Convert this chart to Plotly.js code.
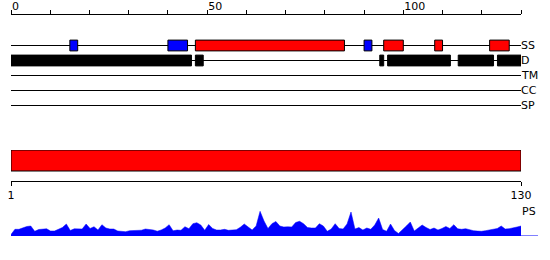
<!DOCTYPE html>
<html><head><meta charset="utf-8">
<script src="https://cdn.plot.ly/plotly-3.0.1.min.js"></script>
<style>html,body{margin:0;padding:0;background:#fff}</style>
</head><body><div id="chart" style="width:550px;height:260px"></div>
<script>
const seqLength = 130;
const trackNames = ['SS', 'D', 'TM', 'CC', 'SP'];
const ssStart = [15, 40, 47, 90, 95, 108, 122];
const ssEnd   = [17, 45, 85, 92, 100, 110, 127];
const ssType  = ['E', 'E', 'H', 'E', 'H', 'H', 'H'];
const disStart = [0, 47, 94, 96, 114, 124];
const disEnd   = [46, 49, 95, 112, 123, 130];
const regionStart = [1];
const regionEnd = [130];
const bottomTickVals = [1, 130];
const psValues = [1.5,6.7,6.7,8.5,9.5,10,4.7,6.5,6.8,7.2,
  5,5,6.7,8.5,12,5.5,7.2,7,7,12,
  7.5,9.3,6,11.3,8,7,7,5,5,4.3,
  5.3,5.7,5.5,5.8,7,6.8,6,4.8,6,8,
  11.3,5.2,6,5.7,9.3,7.3,12.3,13.3,11,5.7,
  11.5,7.5,6,6,6.7,5.7,5.8,6.3,8.7,12,
  9,6,10,24.7,15,7.5,12.3,14.5,10,9,
  9.2,9,13.5,14.7,12.3,8.5,8,8,12.3,10,
  4.7,7,12.3,7.5,7,12,24,7,8.5,6,
  8,6.7,11,18,6.5,4.7,12,5.5,2.5,6,
  10,14,5,8,11,8.5,6.5,8,6,7.5,
  9.5,7.5,11.3,7.2,6.7,7.3,6,5.3,4.9,4.7,
  5.3,6.2,6.9,7.5,10,7,7.3,7.8,9,10];
const psPos = psValues.map((v, i) => i + 1);

const ssColors = {E: '#0000ff', H: '#ff0000'};
const H = 260;
const py = p => 1 - p / H;
const font = {family: 'DejaVu Sans', size: 11, color: '#000'};

const traces = [
  {type: 'bar', orientation: 'h', xaxis: 'x', yaxis: 'y',
   base: ssStart, x: ssEnd.map((e, i) => e - ssStart[i]), y: ssStart.map(() => 0),
   width: 0.72, marker: {color: ssType.map(t => ssColors[t]), line: {color: '#000', width: 1}},
   hoverinfo: 'skip'},
  {type: 'bar', orientation: 'h', xaxis: 'x', yaxis: 'y',
   base: disStart, x: disEnd.map((e, i) => e - disStart[i]), y: disStart.map(() => 1),
   width: 0.72, marker: {color: '#000', line: {color: '#000', width: 1}},
   hoverinfo: 'skip'},
  {type: 'bar', orientation: 'h', xaxis: 'x2', yaxis: 'y2',
   base: regionStart, x: regionEnd.map((e, i) => e - regionStart[i]), y: [0],
   width: 1, marker: {color: '#ff0000', line: {color: '#000', width: 1}},
   hoverinfo: 'skip'},
  {type: 'scatter', mode: 'lines', xaxis: 'x3', yaxis: 'y3',
   x: psPos, y: psValues, fill: 'tozeroy', fillcolor: '#0000ff',
   line: {color: '#0000ff', width: 0.5}, hoverinfo: 'skip'}
];

const shapes = trackNames.map((n, i) => ({
  type: 'line', xref: 'x', yref: 'y', x0: 0, x1: seqLength, y0: i, y1: i,
  line: {color: '#000', width: 1}, layer: 'below'}));
shapes.push({type: 'line', xref: 'paper', yref: 'y3', x0: 1, x1: 527 / 510, y0: 0, y1: 0,
  line: {color: '#0000ff', width: 1}});

const annotations = trackNames.map((n, i) => ({
  text: n, xref: 'x', yref: 'y', x: seqLength, y: i, xanchor: 'left', yanchor: 'middle',
  showarrow: false, font: font, borderpad: 0, xshift: -1}));
annotations.push({text: 'PS', xref: 'paper', yref: 'paper', x: 1, y: py(211),
  xanchor: 'left', yanchor: 'middle', showarrow: false, font: font, borderpad: 0});

const hidden = {visible: false, showgrid: false, zeroline: false, fixedrange: true};
const layout = {
  width: 550, height: 260, margin: {l: 11, r: 29, t: 0, b: 0},
  paper_bgcolor: '#fff', plot_bgcolor: 'rgba(0,0,0,0)',
  showlegend: false, barmode: 'overlay', font: font,
  xaxis: {domain: [0, 1], range: [0, seqLength], anchor: 'y', side: 'top',
    showline: true, linecolor: '#000', linewidth: 1, ticks: 'outside', ticklen: 4,
    tickcolor: '#000', tickmode: 'linear', tick0: 0, dtick: 50,
    ticklabelposition: 'outside right', tickfont: font,
    minor: {tick0: 0, dtick: 10, ticks: 'outside', ticklen: 4, tickcolor: '#000', showgrid: false},
    showgrid: false, zeroline: false, fixedrange: true},
  yaxis: Object.assign({domain: [py(115), py(15)], range: [4.6333, -2.0333]}, hidden),
  xaxis2: {domain: [0, 1], range: [1, seqLength], anchor: 'y2', side: 'bottom',
    showline: true, linecolor: '#000', linewidth: 1, ticks: 'outside', ticklen: 4,
    tickcolor: '#000', tickmode: 'array', tickvals: bottomTickVals, tickfont: font,
    showgrid: false, zeroline: false, fixedrange: true},
  yaxis2: Object.assign({domain: [py(181), py(150)], range: [-0.976, 0.5]}, hidden),
  xaxis3: Object.assign({domain: [0, 1], range: [1, seqLength], anchor: 'y3'}, hidden),
  yaxis3: Object.assign({domain: [py(236), py(205)], range: [0, 31]}, hidden),
  shapes: shapes, annotations: annotations
};
Plotly.newPlot('chart', traces, layout, {staticPlot: true, displayModeBar: false});
</script></body></html>
